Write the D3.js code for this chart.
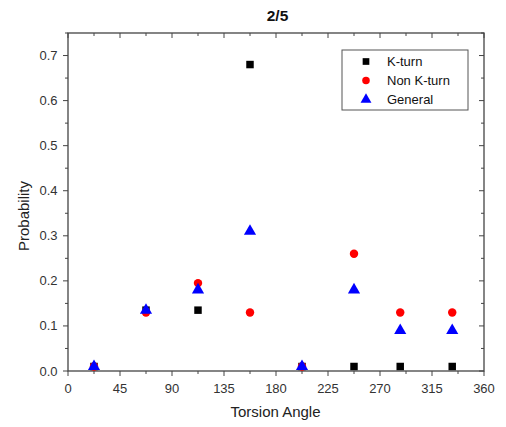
<!DOCTYPE html>
<html>
<head>
<meta charset="utf-8">
<script src="https://cdn.jsdelivr.net/npm/d3@7/dist/d3.min.js"></script>
<style>
  body { margin: 0; background: #fff; }
  svg { display: block; font-family: "Liberation Sans", Arial, sans-serif; }
</style>
</head>
<body>
<div class="chart"></div>
<script>
const angles  = [22.5, 67.5, 112.5, 157.5, 202.5, 247.5, 287.5, 332.5];
const kTurn   = [0.01, 0.135, 0.135, 0.68, 0.01, 0.01, 0.01, 0.01];
const nonK    = [0.01, 0.13, 0.195, 0.13, 0.01, 0.26, 0.13, 0.13];
const general = [0.01, 0.135, 0.18, 0.31, 0.01, 0.18, 0.09, 0.09];
const xTicks  = [0, 45, 90, 135, 180, 225, 270, 315, 360];
const yTicks  = [0, 0.1, 0.2, 0.3, 0.4, 0.5, 0.6, 0.7];
const seriesNames = ['K-turn', 'Non K-turn', 'General'];

const svgSize = { width: 506, height: 427 };
const margin = { top: 33, right: 22, bottom: 56, left: 68 };
const width  = svgSize.width  - margin.left - margin.right;
const height = svgSize.height - margin.top  - margin.bottom;
const axisColor = '#444';
const textColor = '#333';

const svg = d3.select('.chart')
    .append('svg')
    .attr('width', svgSize.width)
    .attr('height', svgSize.height);

const graph = svg.append('g')
    .attr('transform', `translate(${margin.left}, ${margin.top})`);

const x = d3.scaleLinear().domain([0, 360]).range([0, width]);
const y = d3.scaleLinear().domain([0, 0.75]).range([height, 0]);

const xMinor = d3.range(0, 361, 22.5);
const yMinor = d3.range(0, 0.751, 0.05);

// frame
graph.append('rect')
    .attr('width', width).attr('height', height)
    .attr('fill', 'none').attr('stroke', axisColor).attr('stroke-width', 1.3);

const tickStyle = sel => sel.attr('stroke', axisColor).attr('stroke-width', 1);

// bottom (outward) and top (inward)
xMinor.forEach((v, i) => {
    const len = i % 2 === 0 ? 5 : 3;
    graph.append('line').call(tickStyle)
        .attr('x1', x(v)).attr('x2', x(v)).attr('y1', height).attr('y2', height + len);
    graph.append('line').call(tickStyle)
        .attr('x1', x(v)).attr('x2', x(v)).attr('y1', 0).attr('y2', len);
});
// left (outward) and right (inward)
yMinor.forEach((v, i) => {
    const len = i % 2 === 0 ? 5 : 3;
    graph.append('line').call(tickStyle)
        .attr('y1', y(v)).attr('y2', y(v)).attr('x1', 0).attr('x2', -len);
    graph.append('line').call(tickStyle)
        .attr('y1', y(v)).attr('y2', y(v)).attr('x1', width).attr('x2', width - len);
});

graph.selectAll('.xlab').data(xTicks).enter().append('text')
    .attr('x', d => x(d)).attr('y', height + 22)
    .attr('text-anchor', 'middle').attr('font-size', 13).attr('fill', textColor)
    .text(d => d);

graph.selectAll('.ylab').data(yTicks).enter().append('text')
    .attr('x', -10.5).attr('y', d => y(d) + 4.5)
    .attr('text-anchor', 'end').attr('font-size', 13).attr('fill', textColor)
    .text(d => d3.format('.1f')(d));

svg.append('text')
    .attr('x', 275.5).attr('y', 417)
    .attr('text-anchor', 'middle').attr('font-size', 15).attr('fill', '#222')
    .text('Torsion Angle');

svg.append('text')
    .attr('transform', 'translate(29, 216) rotate(-90)')
    .attr('text-anchor', 'middle').attr('font-size', 15).attr('fill', '#222')
    .text('Probability');

svg.append('text')
    .attr('x', 277.5).attr('y', 21)
    .attr('text-anchor', 'middle').attr('font-size', 15.5).attr('font-weight', 'bold')
    .attr('fill', '#111')
    .text('2/5');

const symbols = [
    { type: d3.symbolSquare, size: 56, fill: '#000' },
    { type: d3.symbolCircle, size: 56, fill: '#f00' },
    { type: d3.symbolTriangle, size: 64, fill: '#00f' },
];
const allSeries = [kTurn, nonK, general];

allSeries.forEach((vals, s) => {
    const sym = d3.symbol().type(symbols[s].type).size(symbols[s].size);
    graph.append('g').selectAll('path').data(vals).enter().append('path')
        .attr('d', sym)
        .attr('transform', (d, i) => `translate(${x(angles[i])}, ${y(d)})`)
        .attr('fill', symbols[s].fill);
});

// legend
const legend = svg.append('g').attr('transform', 'translate(342, 50)');
legend.append('rect')
    .attr('width', 126).attr('height', 60)
    .attr('fill', '#fff').attr('stroke', '#555').attr('stroke-width', 1);
seriesNames.forEach((name, i) => {
    const sym = d3.symbol().type(symbols[i].type).size(symbols[i].size * 0.8);
    legend.append('path')
        .attr('d', sym)
        .attr('transform', `translate(24, ${11.5 + i * 19})`)
        .attr('fill', symbols[i].fill);
    legend.append('text')
        .attr('x', 45).attr('y', 16 + i * 19)
        .attr('font-size', 13).attr('fill', '#111')
        .text(name);
});
</script>
</body>
</html>
